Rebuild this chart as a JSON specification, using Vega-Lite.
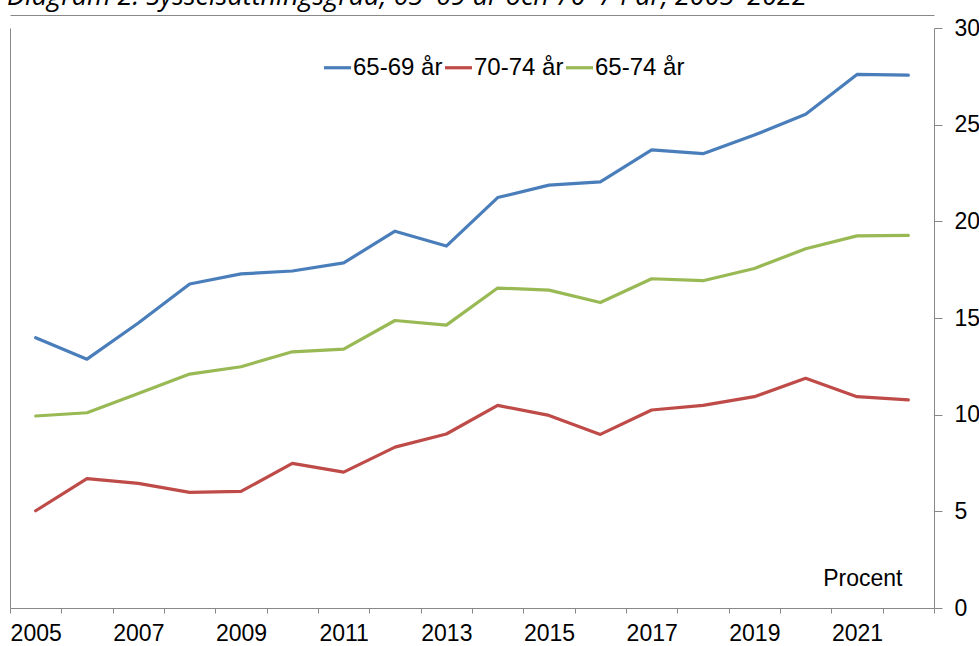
{
  "$schema": "https://vega.github.io/schema/vega-lite/v6.json",
  "autosize": {"type": "none"},
  "padding": {"left": 10, "top": 28, "right": 45, "bottom": 38},
  "width": 924,
  "height": 580,
  "background": "white",
  "title": {
    "text": "Diagram 2. Sysselsättningsgrad, 65–69 år och 70–74 år, 2005–2022",
    "anchor": "start",
    "frame": "group",
    "baseline": "alphabetic",
    "offset": 8,
    "dy": 25,
    "dx": -3,
    "font": "Open Sans",
    "fontStyle": "italic",
    "fontWeight": "normal",
    "fontSize": 27,
    "color": "#000000"
  },
  "data": {
    "values": [
      {"year": 2005, "group": "65-69 år", "value": 13.98},
      {"year": 2006, "group": "65-69 år", "value": 12.87},
      {"year": 2007, "group": "65-69 år", "value": 14.74},
      {"year": 2008, "group": "65-69 år", "value": 16.76},
      {"year": 2009, "group": "65-69 år", "value": 17.28},
      {"year": 2010, "group": "65-69 år", "value": 17.43},
      {"year": 2011, "group": "65-69 år", "value": 17.85},
      {"year": 2012, "group": "65-69 år", "value": 19.49},
      {"year": 2013, "group": "65-69 år", "value": 18.72},
      {"year": 2014, "group": "65-69 år", "value": 21.23},
      {"year": 2015, "group": "65-69 år", "value": 21.87},
      {"year": 2016, "group": "65-69 år", "value": 22.04},
      {"year": 2017, "group": "65-69 år", "value": 23.7},
      {"year": 2018, "group": "65-69 år", "value": 23.5},
      {"year": 2019, "group": "65-69 år", "value": 24.46},
      {"year": 2020, "group": "65-69 år", "value": 25.54},
      {"year": 2021, "group": "65-69 år", "value": 27.6},
      {"year": 2022, "group": "65-69 år", "value": 27.56},
      {"year": 2005, "group": "70-74 år", "value": 5.03},
      {"year": 2006, "group": "70-74 år", "value": 6.69},
      {"year": 2007, "group": "70-74 år", "value": 6.45},
      {"year": 2008, "group": "70-74 år", "value": 5.98},
      {"year": 2009, "group": "70-74 år", "value": 6.03},
      {"year": 2010, "group": "70-74 år", "value": 7.48},
      {"year": 2011, "group": "70-74 år", "value": 7.03},
      {"year": 2012, "group": "70-74 år", "value": 8.32},
      {"year": 2013, "group": "70-74 år", "value": 9.0},
      {"year": 2014, "group": "70-74 år", "value": 10.48},
      {"year": 2015, "group": "70-74 år", "value": 9.96},
      {"year": 2016, "group": "70-74 år", "value": 8.98},
      {"year": 2017, "group": "70-74 år", "value": 10.24},
      {"year": 2018, "group": "70-74 år", "value": 10.48},
      {"year": 2019, "group": "70-74 år", "value": 10.93},
      {"year": 2020, "group": "70-74 år", "value": 11.88},
      {"year": 2021, "group": "70-74 år", "value": 10.93},
      {"year": 2022, "group": "70-74 år", "value": 10.77},
      {"year": 2005, "group": "65-74 år", "value": 9.93},
      {"year": 2006, "group": "65-74 år", "value": 10.1},
      {"year": 2007, "group": "65-74 år", "value": 11.1},
      {"year": 2008, "group": "65-74 år", "value": 12.1},
      {"year": 2009, "group": "65-74 år", "value": 12.48},
      {"year": 2010, "group": "65-74 år", "value": 13.25},
      {"year": 2011, "group": "65-74 år", "value": 13.39},
      {"year": 2012, "group": "65-74 år", "value": 14.87},
      {"year": 2013, "group": "65-74 år", "value": 14.63},
      {"year": 2014, "group": "65-74 år", "value": 16.55},
      {"year": 2015, "group": "65-74 år", "value": 16.44},
      {"year": 2016, "group": "65-74 år", "value": 15.8},
      {"year": 2017, "group": "65-74 år", "value": 17.03},
      {"year": 2018, "group": "65-74 år", "value": 16.93},
      {"year": 2019, "group": "65-74 år", "value": 17.56},
      {"year": 2020, "group": "65-74 år", "value": 18.58},
      {"year": 2021, "group": "65-74 år", "value": 19.25},
      {"year": 2022, "group": "65-74 år", "value": 19.27}
    ]
  },
  "layer": [
    {
      "mark": {"type": "line", "strokeWidth": 3.2, "strokeCap": "round", "strokeJoin": "round"},
      "encoding": {
        "x": {
          "field": "year",
          "type": "ordinal",
          "bandPosition": 0.5,
          "scale": {"type": "band", "paddingInner": 0, "paddingOuter": 0},
          "axis": {
            "orient": "bottom",
            "title": null,
            "tickBand": "extent",
            "domainColor": "#888888",
            "domainWidth": 1,
            "tickColor": "#888888",
            "tickSize": 5,
            "labelFont": "Liberation Sans",
            "labelFontSize": 23,
            "labelColor": "#000000",
            "labelAngle": 0,
            "labelPadding": 9,
            "labelOverlap": false,
            "labelBound": false,
            "labelFlush": false,
            "labelExpr": "toNumber(datum.value) % 2 == 1 ? datum.label : ''",
            "grid": false
          }
        },
        "y": {
          "field": "value",
          "type": "quantitative",
          "scale": {"domain": [0, 30], "nice": false, "zero": true},
          "axis": {
            "orient": "right",
            "values": [0, 5, 10, 15, 20, 25, 30],
            "grid": false,
            "domainColor": "#888888",
            "tickColor": "#888888",
            "tickSize": 8,
            "labelFont": "Liberation Sans",
            "labelFontSize": 23,
            "labelColor": "#000000",
            "labelPadding": 12,
            "labelBound": false,
            "labelFlush": false,
            "labelOverlap": false,
            "title": "Procent",
            "titleAngle": 0,
            "titleX": -32,
            "titleY": 557,
            "titleAlign": "right",
            "titleBaseline": "alphabetic",
            "titleFont": "Liberation Sans",
            "titleFontSize": 23,
            "titleFontWeight": "normal",
            "titleColor": "#000000"
          }
        },
        "color": {
          "field": "group",
          "type": "nominal",
          "scale": {
            "domain": ["65-69 år", "70-74 år", "65-74 år"],
            "range": ["#4A7EBB", "#BE4B48", "#98B954"]
          },
          "legend": {
            "title": null,
            "orient": "none",
            "legendX": 312,
            "legendY": 24,
            "direction": "horizontal",
            "symbolType": "stroke",
            "symbolSize": 729,
            "symbolStrokeWidth": 3.2,
            "labelFont": "Liberation Sans",
            "labelFontSize": 24,
            "labelColor": "#000000",
            "labelOffset": 0,
            "columnPadding": -8,
            "padding": 0,
            "labelLimit": 0
          }
        }
      }
    },
    {
      "mark": {"type": "point", "opacity": 0},
      "encoding": {
        "x": {
          "field": "year",
          "type": "ordinal",
          "bandPosition": 0.5,
          "axis": {
            "orient": "top",
            "offset": 13,
            "title": null,
            "labels": false,
            "ticks": false,
            "grid": false,
            "domainColor": "#888888"
          }
        },
        "y": {
          "field": "value",
          "type": "quantitative",
          "axis": {
            "orient": "left",
            "title": null,
            "labels": false,
            "ticks": false,
            "grid": false,
            "domainColor": "#888888"
          }
        }
      }
    }
  ],
  "resolve": {"axis": {"x": "independent", "y": "independent"}},
  "config": {"view": {"stroke": null}}
}
